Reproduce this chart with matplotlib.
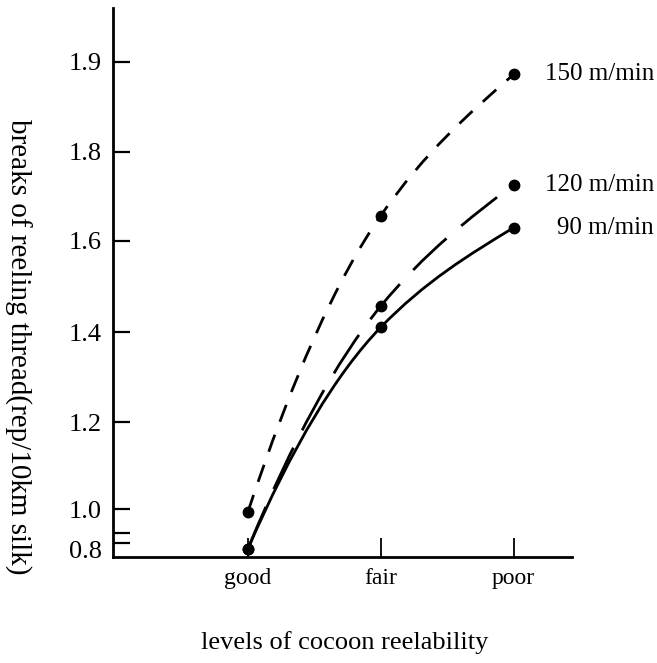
import numpy as np
import matplotlib.pyplot as plt
from matplotlib.path import Path
from matplotlib.patches import PathPatch

plt.rcParams['font.family'] = ['Liberation Serif', 'DejaVu Serif']

# datos
levels = ['good', 'fair', 'poor']
speeds = ['150 m/min', '120 m/min', '90 m/min']
breaks_150 = [0.985, 1.656, 1.886]
breaks_120 = [0.80, 1.457, 1.726]
breaks_90 = [0.80, 1.411, 1.629]

ytick_vals = [0.8, 1.0, 1.2, 1.4, 1.6, 1.8, 1.9]
ytick_labels = ['0.8', '1.0', '1.2', '1.4', '1.6', '1.8', '1.9']
ytick_minor = [0.83, 0.88]

# eje y irregular (como en el original): valor -> posicion
scale_vals = [0.76, 0.8, 1.0, 1.2, 1.4, 1.6, 1.8, 1.9, 1.96]
scale_pos = [0, 8, 48, 135, 225, 317, 406, 496, 550]


def fwd(v):
    return np.interp(v, scale_vals, scale_pos)


def inv(p):
    return np.interp(p, scale_pos, scale_vals)


# curva suave (Bezier) que pasa por los puntos, en coordenadas de la escala
def smooth_path(vals):
    u = fwd(np.asarray(vals, dtype=float))
    x = np.arange(len(u), dtype=float)
    s = np.diff(u)
    m = np.empty(len(u))
    m[1:-1] = 2 * s[:-1] * s[1:] / (s[:-1] + s[1:])
    m[0] = 2 * s[0] - m[1]
    m[-1] = 1.5 * s[-1] - 0.5 * m[-2]
    verts = [(x[0], u[0])]
    codes = [Path.MOVETO]
    for i in range(len(u) - 1):
        h = x[i+1] - x[i]
        verts += [(x[i] + h/3, u[i] + m[i]*h/3),
                  (x[i+1] - h/3, u[i+1] - m[i+1]*h/3),
                  (x[i+1], u[i+1])]
        codes += [Path.CURVE4] * 3
    return Path(verts, codes)


fig = plt.figure(figsize=(6.57, 6.63), dpi=100)
ax = fig.add_axes([113/657, 106/663, 459/657, 549/663])
ax.set_yscale('function', functions=(fwd, inv))
ax.set_xlim(-1.015, 2.44)
ax.set_ylim(0.76, 1.96)

x = np.arange(len(levels))
series = [(breaks_150, (0, (6.5, 5))), (breaks_120, (0, (16.5, 7))), (breaks_90, '-')]
tr = ax.transLimits + ax.transAxes
for vals, ls in series:
    ax.add_patch(PathPatch(smooth_path(vals), transform=tr, fill=False,
                           edgecolor='black', lw=2, linestyle=ls, capstyle='butt'))
    ax.plot(x, vals, 'o', color='black', ms=7.5)

for vals, name in zip([breaks_150, breaks_120, breaks_90], speeds):
    ax.annotate(name, xy=(x[-1], vals[-1]), xytext=(101, 0),
                textcoords='offset points', ha='right', va='center',
                fontsize=18, annotation_clip=False)

ax.spines['top'].set_visible(False)
ax.spines['right'].set_visible(False)
ax.spines['left'].set_linewidth(2)
ax.spines['bottom'].set_linewidth(2)

ax.set_xticks(x)
ax.set_xticklabels(levels)
ax.set_yticks(ytick_vals)
ax.set_yticklabels(ytick_labels)
ax.set_yticks(ytick_minor, minor=True)
ax.tick_params(axis='x', direction='in', length=14, width=1.3, pad=8, labelsize=17)
ax.tick_params(axis='y', which='both', direction='in', length=12, width=1.6, pad=8, labelsize=19)
ax.yaxis.set_minor_formatter(plt.NullFormatter())
ax.yaxis.get_major_ticks()[0].tick1line.set_visible(False)

fig.text(345/657, 20/663, 'levels of cocoon reelability', ha='center', va='center', fontsize=19)
fig.text(18/657, 1 - 347/663, 'breaks of reeling thread(rep/10km silk)', rotation=-90,
         ha='center', va='center', fontsize=21)

plt.savefig('out.png', dpi=100)
